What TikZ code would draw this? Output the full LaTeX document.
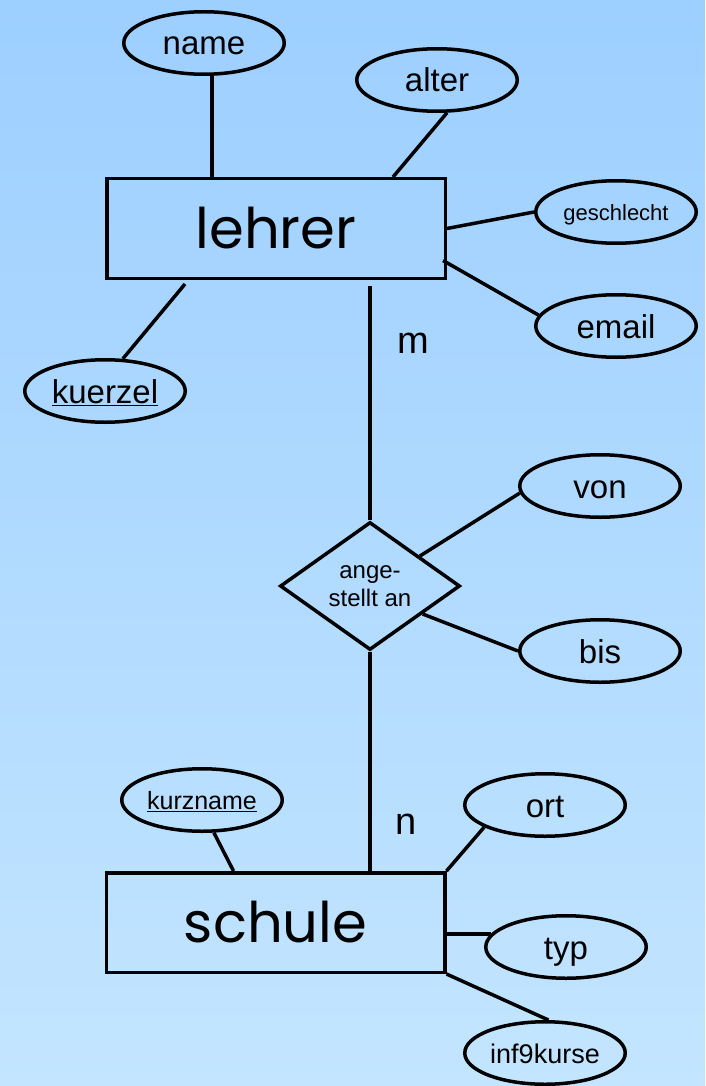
\documentclass[tikz,border=0pt]{standalone}
\usepackage{fontspec}
\setmainfont{Liberation Sans}
\newfontfamily\entityfont{Poppins}
\usetikzlibrary{shapes.geometric,calc}
\definecolor{bgtop}{HTML}{9DCFFF}
\definecolor{bgbot}{HTML}{C3E5FF}
\begin{document}
\begin{tikzpicture}[x=1pt,y=-1pt,line width=3.5pt,
  attr/.style={draw, ellipse, minimum width=160.5pt, minimum height=62.5pt,
    inner sep=0pt, text height=24pt, text depth=0pt,
    font=\fontsize{33}{38}\selectfont},
  smallattr/.style={attr, text height=17pt},
  entity/.style={draw, rectangle, minimum width=338.5pt, minimum height=99.5pt,
    inner sep=0pt, font=\entityfont\fontsize{56}{60}\selectfont},
  relship/.style={draw, diamond, aspect=1.4, minimum width=180pt,
    minimum height=128pt, inner sep=0pt, align=center,
    font=\fontsize{24}{28}\selectfont},
  card/.style={anchor=base, inner sep=0pt, font=\fontsize{38}{42}\selectfont},
  link/.style={draw, line width=3.5pt}
]
\useasboundingbox (0,0) rectangle (705,1086);
\shade[top color=bgtop, bottom color=bgbot] (0,0) rectangle (705,1086);

% entities
\node[entity] (lehrer) at (276,228.5) {lehrer};
\node[entity] (schule) at (275.5,922.5) {schule};

% relationship
\node[relship] (rel) at (370,586) {ange-\\stellt an};

% attributes of lehrer
\node[attr] (name) at (204,43) {name};
\node[attr] (alter) at (437,80) {alter};
\node[smallattr, font=\fontsize{22}{26}\selectfont] (geschlecht) at (616,212) {geschlecht};
\node[attr] (email) at (616,326) {email};
\node[attr] (kuerzel) at (105,391) {\underline{kuerzel}};

% attributes of the relationship
\node[attr] (von) at (600,486) {von};
\node[attr] (bis) at (600,651) {bis};

% attributes of schule
\node[smallattr, text height=19pt, font=\fontsize{25}{29}\selectfont] (kurzname) at (202,800) {\underline{kurzname}};
\node[attr] (ort) at (545,805) {ort};
\node[attr] (typ) at (566,947) {typ};
\node[smallattr, text height=20pt, font=\fontsize{27}{31}\selectfont] (inf9kurse) at (545,1053) {inf9kurse};

% cardinalities
\node[card] (m) at (413,353) {m};
\node[card] (n) at (406,834) {n};

% attribute links
\draw[link] (name.-76) -- (name.-76 |- lehrer.north);
\draw[link] (alter.-73) -- ($(lehrer.north west)+(288,0)$);
\draw[link] (geschlecht.west) -- (lehrer.east);
\draw[link] (email.172) -- ($(lehrer.east)+(-4,32)$);
\draw[link] (kuerzel.61) -- ($(lehrer.south west)+(80,4)$);
\draw[link] (von.185) -- (rel.31);
\draw[link] (bis.west) -- (rel.-28);
\draw[link] (kurzname.-70) -- ($(schule.north west)+(129,0)$);
\draw[link] (ort.200) -- (schule.north east);
\draw[link] (typ.170) -- (typ.170 -| schule.east);
\draw[link] (inf9kurse.84) -- (schule.south east);

% relationship links
\coordinate (mtop) at ($(lehrer.south)+(0,6)$);
\draw[link] (rel.north) -- (rel.north |- mtop);
\draw[link] (rel.south) -- (rel.south |- schule.north);
\end{tikzpicture}
\end{document}
